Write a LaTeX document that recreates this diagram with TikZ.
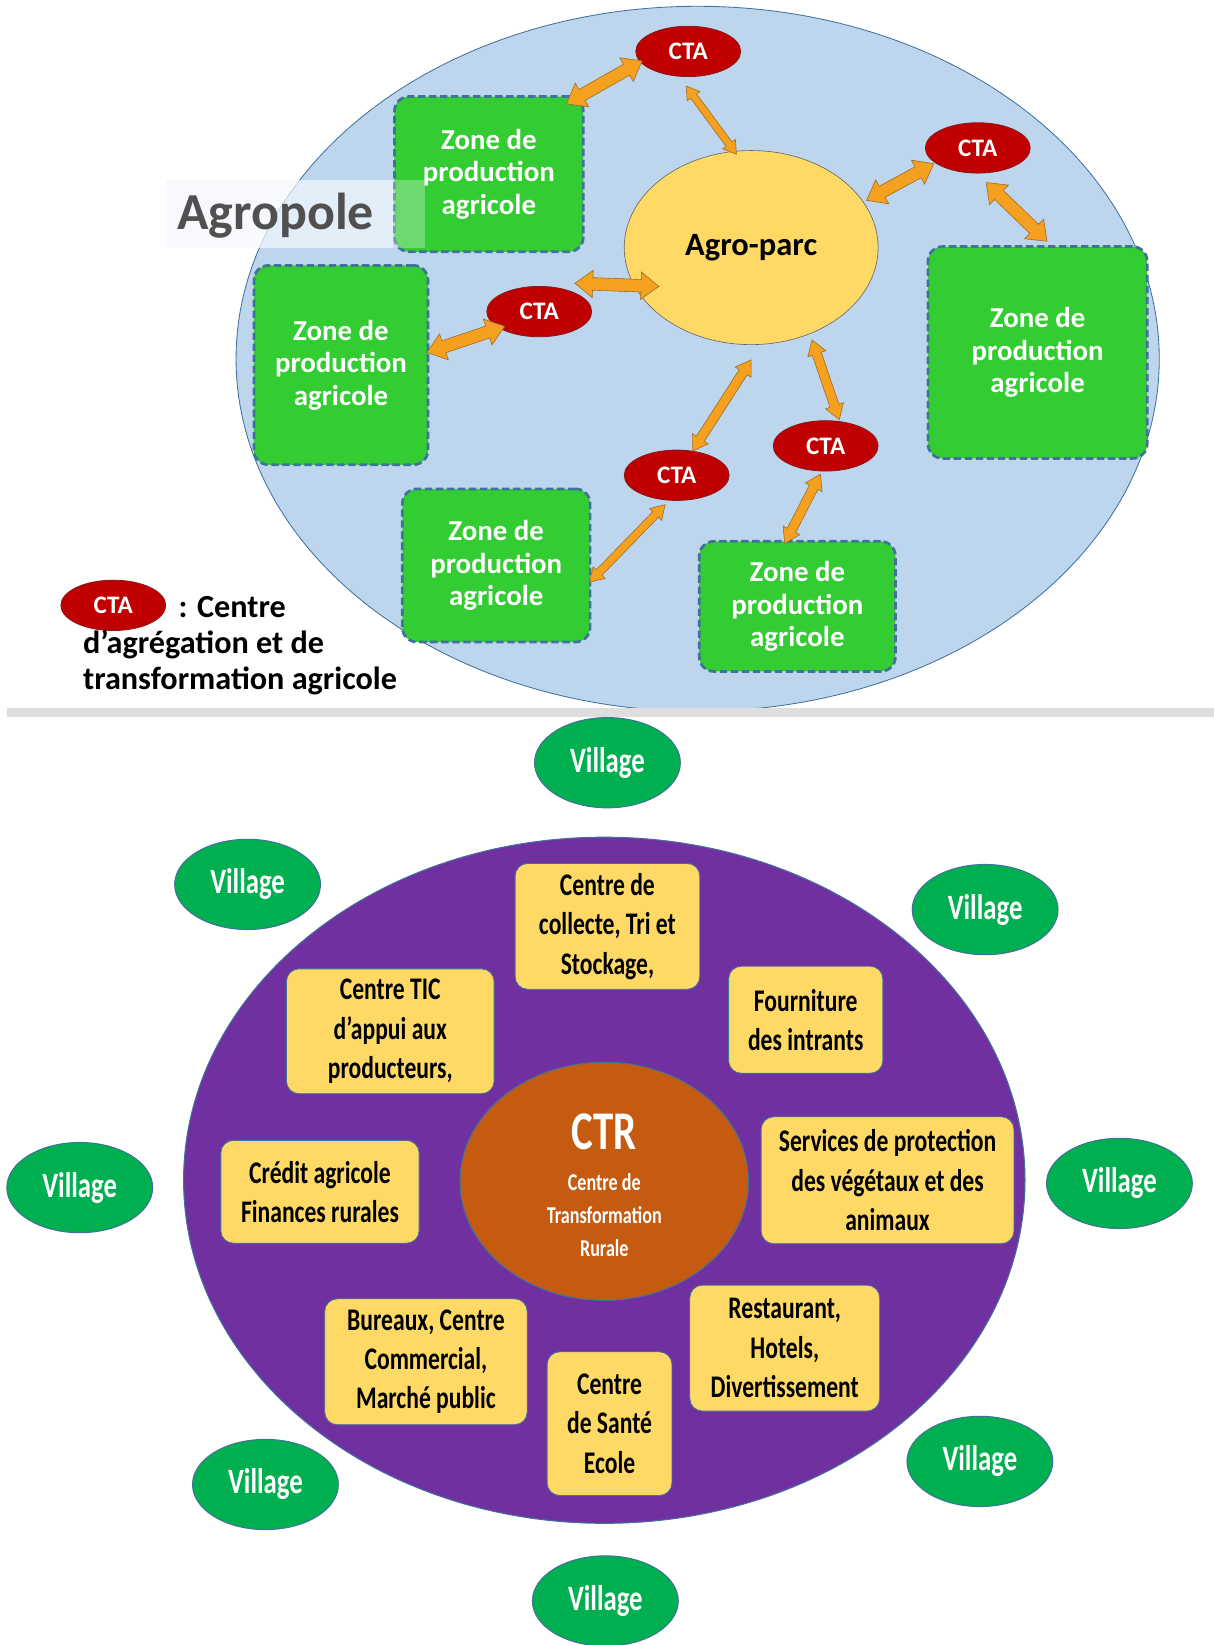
\documentclass[tikz,border=0pt]{standalone}
\usepackage{fontspec}
\setmainfont{Carlito}
\newfontfamily\condf[FakeStretch=0.75]{Carlito}
\usetikzlibrary{calc,shapes.geometric}
\definecolor{bluebg}{HTML}{BDD6EE}
\definecolor{bordblue}{HTML}{41719C}
\definecolor{zgreen}{HTML}{33CC33}
\definecolor{ctared}{HTML}{C00000}
\definecolor{ctaedge}{HTML}{8B1A1A}
\definecolor{agroyel}{HTML}{FFD966}
\definecolor{arrorange}{HTML}{F5A01E}
\definecolor{arredge}{HTML}{A0702A}
\definecolor{purp}{HTML}{7030A0}
\definecolor{ctrorange}{HTML}{C55A11}
\definecolor{vgreen}{HTML}{00B050}
\definecolor{bandgrey}{HTML}{DEDEDE}
\definecolor{overlayc}{HTML}{F4F8FC}
\definecolor{agtextc}{HTML}{505050}
\newcommand\blockarr[5]{%
  \coordinate (bA) at (#1);
  \coordinate (bB) at (#2);
  \coordinate (bH1) at ($(bA)!#5pt!(bB)$);
  \coordinate (bH2) at ($(bB)!#5pt!(bA)$);
  \draw[barrow] (bA) -- ($(bH1)!#4pt!90:(bB)$) -- ($(bH1)!#3pt!90:(bB)$)
    -- ($(bH2)!#3pt!-90:(bA)$) -- ($(bH2)!#4pt!-90:(bA)$) -- (bB)
    -- ($(bH2)!#4pt!90:(bA)$) -- ($(bH2)!#3pt!90:(bA)$)
    -- ($(bH1)!#3pt!-90:(bB)$) -- ($(bH1)!#4pt!-90:(bB)$) -- cycle;
}
\begin{document}
\begin{tikzpicture}[x=1pt,y=-1pt,
  barrow/.style={fill=arrorange,draw=arredge,line width=0.6pt,line join=miter},
  zone/.style={rectangle,rounded corners=14pt,fill=zgreen,draw=bordblue,line width=2.6pt,
    dash pattern=on 7pt off 3.5pt,text=white,align=center,inner sep=0pt,
    font=\bfseries\fontsize{27.5}{31}\selectfont},
  cta/.style={ellipse,fill=ctared,draw=ctaedge,line width=0.8pt,minimum width=100pt,
    minimum height=48pt,inner sep=0pt,text=white,font=\bfseries\fontsize{24}{26}\selectfont},
  ybox/.style={rectangle,rounded corners=12pt,fill=agroyel,draw=bordblue,line width=0.8pt,
    align=center,inner sep=0pt,text=black,font=\condf\bfseries\fontsize{30}{37.5}\selectfont},
  village/.style={ellipse,fill=vgreen,draw=bordblue,line width=1pt,minimum width=139pt,
    minimum height=86pt,inner sep=0pt,text=white,font=\condf\bfseries\fontsize{34}{38}\selectfont},
  legend/.style={anchor=west,inner sep=0pt,text=black,font=\bfseries\fontsize{30.7}{34}\selectfont}
]
\useasboundingbox (0,0) rectangle (1157,1568);
\fill[white] (0,0) rectangle (1157,1568);

% ---------------- top part ----------------
\node[ellipse,fill=bluebg,draw=bordblue,line width=0.8pt,minimum width=880pt,minimum height=672pt,inner sep=0pt] (agropole) at (665,342) {};
\fill[bandgrey] (7,675) rectangle (1157,683);

\node[ellipse,fill=agroyel,draw=gray!80!black,line width=0.6pt,minimum width=242pt,minimum height=185pt,inner sep=0pt,
  font=\bfseries\fontsize{31}{34}\selectfont] (agro) at (716,236) {Agro-parc};

\node[zone,minimum width=180pt,minimum height=148pt] (tl) at (466,166) {Zone de\\production\\agricole};
\node[zone,minimum width=166pt,minimum height=190pt] (zl) at (325,348) {Zone de\\production\\agricole};
\node[zone,minimum width=209pt,minimum height=202pt] (zr) at (989,336) {Zone de\\production\\agricole};
\node[zone,minimum width=179pt,minimum height=146pt] (bl) at (473,539) {Zone de\\production\\agricole};
\node[zone,minimum width=187pt,minimum height=124pt] (br) at (760,578) {Zone de\\production\\agricole};

\node[cta] (cta1) at (656,49) {CTA};
\node[cta] (cta2) at (932,141) {CTA};
\node[cta] (cta3) at (514,297) {CTA};
\node[cta] (cta4) at (645,453) {CTA};
\node[cta] (cta5) at (787,425) {CTA};

\blockarr{[shift={(74,-67)}]tl.center}{[shift={(-44,9)}]cta1.center}{6}{13}{17}
\blockarr{[shift={(-2,33)}]cta1.center}{[shift={(-14,-89)}]agro.center}{3.5}{7.5}{12}
\blockarr{[shift={(110,-45)}]agro.center}{[shift={(-42,15)}]cta2.center}{6}{13}{17}
\blockarr{[shift={(8,33)}]cta2.center}{[shift={(9,-106)}]zr.center}{6}{13}{17}
\blockarr{[shift={(34,-27)}]cta3.center}{[shift={(-88,37)}]agro.center}{6}{13}{17}
\blockarr{[shift={(82,-12)}]zl.center}{[shift={(-33,14)}]cta3.center}{6}{13}{17}
\blockarr{[shift={(15,-23)}]cta4.center}{[shift={(0,107)}]agro.center}{4.5}{9}{14}
\blockarr{[shift={(89,16)}]bl.center}{[shift={(-11,28)}]cta4.center}{3.8}{8}{13}
\blockarr{[shift={(13,-25)}]cta5.center}{[shift={(58,88)}]agro.center}{4.5}{9}{14}
\blockarr{[shift={(-12,-60)}]br.center}{[shift={(-5,27)}]cta5.center}{4.5}{9}{14}

% Agropole label overlay
\path[fill=overlayc,fill opacity=0.72] (158,172) rectangle (375,236);
\path[fill=overlayc,fill opacity=0.3] (375,172) rectangle (405,236);
\node[anchor=west,inner sep=0pt,text=agtextc,font=\bfseries\fontsize{49.5}{52}\selectfont] (agtext) at (169,206) {Agropole};

% legend
\node[cta] (ctaleg) at (108,577) {CTA};
\node[legend] (leg1) at (170,579) {: Centre};
\node[legend] (leg2) at (79,614) {d’agrégation et de};
\node[legend] (leg3) at (79,649) {transformation agricole};

% ---------------- bottom part ----------------
\node[ellipse,fill=purp,draw=bordblue,line width=1pt,minimum width=802pt,minimum height=654pt,inner sep=0pt] (ctrzone) at (576,1125) {};
\node[ellipse,fill=ctrorange,draw=bordblue,line width=1pt,minimum width=275pt,minimum height=227pt,inner sep=0pt] (ctr) at (576,1126) {};
\node[inner sep=0pt,text=white,font=\condf\bfseries\fontsize{52}{56}\selectfont] (ctrt) at (576,1079) {CTR};
\node[inner sep=0pt,text=white,align=center,font=\condf\bfseries\fontsize{23}{31.5}\selectfont] (ctrs) at (576,1158) {Centre de\\Transformation\\Rurale};

\node[ybox,minimum width=176pt,minimum height=120pt] (collecte) at (579,883) {Centre de\\collecte, Tri et\\Stockage,};
\node[ybox,minimum width=198pt,minimum height=119pt] (tic) at (372,983) {Centre TIC\\d’appui aux\\producteurs,};
\node[ybox,minimum width=147pt,minimum height=102pt] (fourn) at (768,972) {Fourniture\\des intrants};
\node[ybox,minimum width=189pt,minimum height=98pt] (credit) at (305,1136) {Crédit agricole\\Finances rurales};
\node[ybox,minimum width=241pt,minimum height=121pt] (serv) at (846,1125) {Services de protection\\des végétaux et des\\animaux};
\node[ybox,minimum width=193pt,minimum height=120pt] (bur) at (406,1298) {Bureaux, Centre\\Commercial,\\Marché public};
\node[ybox,minimum width=181pt,minimum height=120pt] (resto) at (748,1285) {Restaurant,\\Hotels,\\Divertissement};
\node[ybox,minimum width=119pt,minimum height=137pt] (sante) at (581,1357) {Centre\\de Santé\\Ecole};

\node[village] (v1) at (579,727) {Village};
\node[village] (v2) at (236,843) {Village};
\node[village] (v3) at (939,867) {Village};
\node[village] (v4) at (76,1132) {Village};
\node[village] (v5) at (1067,1128) {Village};
\node[village] (v6) at (253,1415) {Village};
\node[village] (v7) at (934,1393) {Village};
\node[village] (v8) at (577,1526) {Village};
\end{tikzpicture}
\end{document}
